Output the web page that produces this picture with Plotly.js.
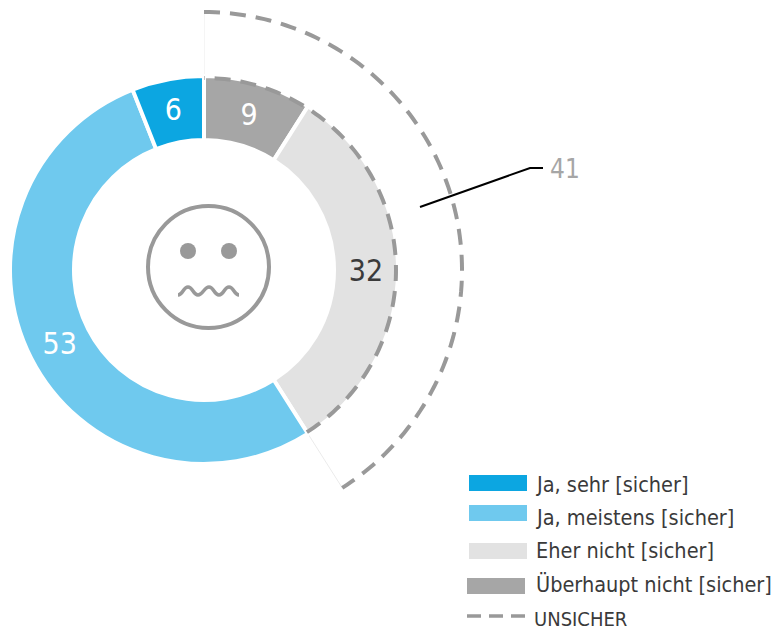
<!DOCTYPE html>
<html><head><meta charset="utf-8">
<script src="https://cdn.plot.ly/plotly-3.0.1.min.js"></script>
<style>html,body{margin:0;padding:0;background:#fff}</style></head>
<body><div id="chart" style="width:774px;height:630px"></div>
<script>
const categories = ["Ja, sehr [sicher]", "Ja, meistens [sicher]", "Eher nicht [sicher]", "Überhaupt nicht [sicher]"];
const values = [6, 53, 32, 9];
const sliceColors = ["#0CA6E1", "#6FC9EE", "#E2E2E2", "#A6A6A6"];
const labelColors = ["#ffffff", "#ffffff", "#3a3a3a", "#ffffff"];
const unsicherLabel = "UNSICHER";
const unsicherShare = 41;
const FONT = '"DejaVu Sans Condensed","DejaVu Sans",sans-serif';
const W = 774, H = 630;
const cx = 204, cy = 270, rOuter = 192, rDash = 258, pad = 5, sep = 4;
const px = x => x / W, py = y => 1 - y / H;

// the pie runs clockwise from 12 o'clock, so the series is read back to front
const rev = a => a.slice().reverse();

// radial scale: 100 = donut edge
const rIn = 100, rOut = 100 * rDash / rOuter, rMax = 100 * (rDash + pad) / rOuter;
const endAngle = unsicherShare * 3.6;
const steps = 120;
const arcT = [], arcR = [];
for (let i = 0; i <= steps; i++) { arcT.push(endAngle * i / steps); arcR.push(rOut); }

// the pie layer covers polar subplots, so the arc on the donut edge is a top-layer shape built from the same share
let innerArc = "";
for (let i = steps; i >= 0; i--) {
  const a = (endAngle * i / steps) * Math.PI / 180;
  innerArc += `${i === steps ? "M" : "L"}${px(cx + rOuter * Math.sin(a))},${py(cy - rOuter * Math.cos(a))} `;
}

const rPie = rOuter + sep / 2;
const traces = [
  {
    type: "pie", values: rev(values), labels: rev(categories), sort: false, direction: "clockwise", rotation: 0,
    hole: 130 / rPie, showlegend: false,
    marker: {colors: rev(sliceColors), line: {color: "#ffffff", width: sep}},
    textinfo: "value", textposition: "inside", insidetextorientation: "horizontal",
    insidetextfont: {family: FONT, size: 30, color: rev(labelColors)},
    domain: {x: [px(cx - rPie), px(cx + rPie)], y: [py(cy + rPie), py(cy - rPie)]},
    hoverinfo: "label+value"
  },
  {
    type: "scatterpolar", subplot: "polar", r: [rIn, rOut, null, rIn, rOut], theta: [0, 0, null, endAngle, endAngle],
    mode: "lines", showlegend: false, line: {color: "#ebebeb", width: 1}, hoverinfo: "skip"
  },
  {
    type: "scatterpolar", subplot: "polar", r: arcR, theta: arcT, mode: "lines", name: unsicherLabel, showlegend: false,
    line: {color: "#999999", width: 4, dash: "16px,10px"}, hoverinfo: "skip"
  }
];

// legend rows: swatch left edge, swatch centre y, text left edge, text centre y
const legendRows = [[469, 483, 536, 484], [469, 513, 536, 517], [469, 551, 536, 550], [467, 586, 536, 584], [467, 616, 534, 619]];
const legendShapes = categories.map((c, i) => ({
  type: "rect", xref: "paper", yref: "paper", x0: px(legendRows[i][0]), x1: px(legendRows[i][0] + 58),
  y0: py(legendRows[i][1] + 8), y1: py(legendRows[i][1] - 8), fillcolor: sliceColors[i], line: {width: 0}
}));
legendShapes.push({
  type: "line", xref: "paper", yref: "paper", x0: px(467), x1: px(525), y0: py(616), y1: py(616),
  line: {color: "#999999", width: 3.5, dash: "14px,8px"}
});
const legendTexts = categories.concat([unsicherLabel]).map((t, i) => ({
  xref: "paper", yref: "paper", x: px(legendRows[i][2]), y: py(legendRows[i][3]), xanchor: "left", yanchor: "middle",
  showarrow: false, text: t, xshift: -2, font: {family: FONT, size: i === 4 ? 20 : 21.5, color: "#3a3a3a"}
}));

const mouth = [[178,295],[188,287],[198,295],[209,287],[219,295],[229,287],[239,295]];
let mouthPath = `M${px(mouth[0][0])},${py(mouth[0][1])}`;
for (let i = 1; i < mouth.length; i++) {
  const a = mouth[i-1], b = mouth[i];
  mouthPath += ` C${px(a[0]+5)},${py(a[1])} ${px(b[0]-5)},${py(b[1])} ${px(b[0])},${py(b[1])}`;
}

const layout = {
  width: W, height: H, margin: {l: 0, r: 0, t: 0, b: 0, autoexpand: false}, paper_bgcolor: "#fff", plot_bgcolor: "#fff",
  font: {family: FONT, color: "#3a3a3a"},
  polar: {
    domain: {x: [px(cx), px(cx + rDash + pad)], y: [py(cy + rDash + pad), py(cy - rDash - pad)]},
    sector: [-90, 90], bgcolor: "rgba(0,0,0,0)",
    radialaxis: {range: [0, rMax], visible: false},
    angularaxis: {rotation: 90, direction: "clockwise", visible: false}
  },
  showlegend: false,
  annotations: legendTexts.concat([{
    xref: "paper", yref: "paper", x: px(551), y: py(169), xanchor: "left", yanchor: "middle", showarrow: false, xshift: -3,
    text: String(unsicherShare), font: {family: FONT, size: 26, color: "#a6a6a6"}
  }]),
  shapes: legendShapes.concat([
    {type: "path", xref: "paper", yref: "paper", line: {color: "#999999", width: 4, dash: "16px,10px"}, path: innerArc.trim()},
    {type: "path", xref: "paper", yref: "paper", line: {color: "#000", width: 2},
     path: `M${px(420)},${py(207)} L${px(530)},${py(168)} L${px(543)},${py(168)}`},
    {type: "circle", xref: "paper", yref: "paper", x0: px(148), x1: px(269), y0: py(328), y1: py(206), line: {color: "#999", width: 4}},
    {type: "circle", xref: "paper", yref: "paper", x0: px(180), x1: px(196), y0: py(259), y1: py(243), fillcolor: "#999", line: {width: 0}},
    {type: "circle", xref: "paper", yref: "paper", x0: px(221), x1: px(237), y0: py(259), y1: py(243), fillcolor: "#999", line: {width: 0}},
    {type: "path", xref: "paper", yref: "paper", line: {color: "#999", width: 3.5}, path: mouthPath}
  ])
};
Plotly.newPlot("chart", traces, layout, {staticPlot: true, displayModeBar: false});
</script></body></html>
